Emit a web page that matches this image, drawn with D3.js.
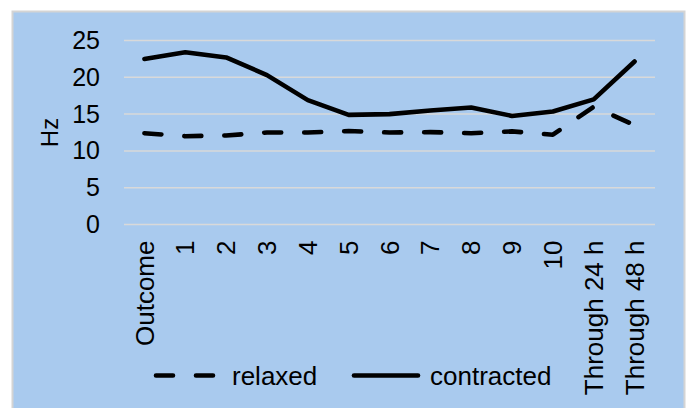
<!DOCTYPE html>
<html>
<head>
<meta charset="utf-8">
<script src="https://cdn.jsdelivr.net/npm/d3@7"></script>
<style>
  body { margin: 0; background: #fff; }
  svg { display: block; font-family: "Liberation Sans", Arial, sans-serif; }
</style>
</head>
<body>
<div class="chart"></div>
<script>
const categories = ["Outcome", "1", "2", "3", "4", "5", "6", "7", "8", "9", "10", "Through 24 h", "Through 48 h"];
const relaxed = [12.4, 12.0, 12.1, 12.5, 12.5, 12.7, 12.5, 12.55, 12.4, 12.65, 12.2, 16.0, 13.5];
const contracted = [22.5, 23.4, 22.7, 20.3, 16.9, 14.9, 15.0, 15.5, 15.9, 14.75, 15.35, 17.0, 22.15];
const yTicks = [0, 5, 10, 15, 20, 25];

const W = 688, H = 408;
const PLOT = { left: 124, right: 655, top: 40.5, bottom: 224.5 };

const svg = d3.select(".chart").append("svg").attr("width", W).attr("height", H);

// frame
svg.append("rect")
  .attr("x", 12.5).attr("y", 11.5)
  .attr("width", 672).attr("height", 410)
  .attr("fill", "#a9caee")
  .attr("stroke", "#d4d4d4")
  .attr("stroke-width", 2);

const x = d3.scaleBand().domain(categories).range([PLOT.left, PLOT.right]);
const cx = (d) => x(d) + x.bandwidth() / 2;

const y = d3.scaleLinear().domain([0, 25]).range([PLOT.bottom, PLOT.top]);

// gridlines
svg.append("g")
  .selectAll("line")
  .data(yTicks)
  .join("line")
  .attr("x1", PLOT.left).attr("x2", PLOT.right)
  .attr("y1", (d) => y(d)).attr("y2", (d) => y(d))
  .attr("stroke", "#d9d9d9")
  .attr("stroke-width", 1.5);

// y axis
const yAxis = svg.append("g")
  .attr("transform", `translate(${PLOT.left},0)`)
  .call(d3.axisLeft(y).tickValues(yTicks).tickSize(0).tickPadding(24));
yAxis.select(".domain").remove();
yAxis.selectAll("text").attr("font-size", 25).attr("fill", "#000").attr("font-family", null);

// x axis
const xAxis = svg.append("g")
  .attr("transform", `translate(0,${PLOT.bottom})`)
  .call(d3.axisBottom(x).tickSize(0));
xAxis.select(".domain").remove();
xAxis.selectAll("text")
  .attr("font-size", 26)
  .attr("font-family", null)
  .attr("fill", "#000")
  .attr("transform", "rotate(-90)")
  .attr("text-anchor", "end")
  .attr("x", -16)
  .attr("y", 0)
  .attr("dy", "0.35em");

// axis title
svg.append("text")
  .attr("transform", `translate(49.5,${(PLOT.top + PLOT.bottom) / 2}) rotate(-90)`)
  .attr("text-anchor", "middle")
  .attr("dy", "0.35em")
  .attr("font-size", 24)
  .text("Hz");

// lines
const line = d3.line().x((d, i) => cx(categories[i])).y((d) => y(d));

svg.append("path")
  .datum(relaxed)
  .attr("d", line)
  .attr("fill", "none")
  .attr("stroke", "#000")
  .attr("stroke-width", 4.6)
  .attr("stroke-linecap", "round")
  .attr("stroke-linejoin", "round")
  .attr("stroke-dasharray", "17,23");

svg.append("path")
  .datum(contracted)
  .attr("d", line)
  .attr("fill", "none")
  .attr("stroke", "#000")
  .attr("stroke-width", 4.6)
  .attr("stroke-linecap", "round")
  .attr("stroke-linejoin", "round");

// legend
const legendY = 375.5;
const legend = [
  { name: "relaxed", x1: 156, x2: 216, dash: "17,23", tx: 232 },
  { name: "contracted", x1: 354, x2: 418, dash: null, tx: 430 }
];
const lg = svg.append("g");
lg.selectAll("line")
  .data(legend)
  .join("line")
  .attr("x1", (d) => d.x1).attr("x2", (d) => d.x2)
  .attr("y1", legendY).attr("y2", legendY)
  .attr("stroke", "#000")
  .attr("stroke-width", 4.6)
  .attr("stroke-linecap", "round")
  .attr("stroke-dasharray", (d) => d.dash);
lg.selectAll("text")
  .data(legend)
  .join("text")
  .attr("x", (d) => d.tx)
  .attr("y", legendY)
  .attr("dy", "0.35em")
  .attr("font-size", 26)
  .text((d) => d.name);
</script>
</body>
</html>
